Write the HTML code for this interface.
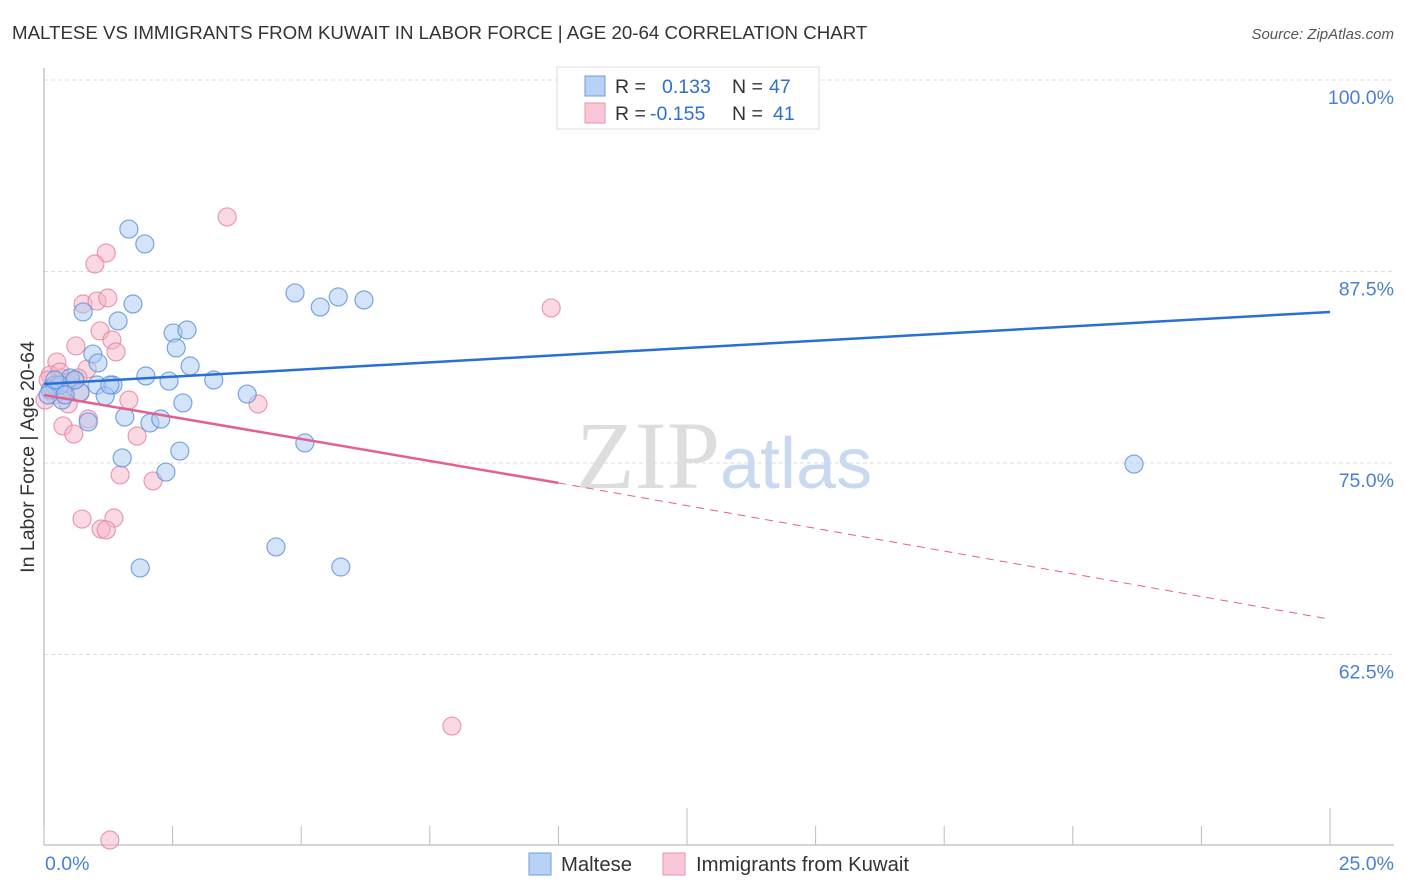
<!DOCTYPE html>
<html><head><meta charset="utf-8"><style>
body{margin:0;background:#fff;font-family:"Liberation Sans",sans-serif;}
svg{display:block}
</style></head><body>
<svg width="1406" height="892" xmlns="http://www.w3.org/2000/svg">
<text x="12" y="39" font-size="18.7" fill="#333">MALTESE VS IMMIGRANTS FROM KUWAIT IN LABOR FORCE | AGE 20-64 CORRELATION CHART</text>
<text x="1394" y="39" font-size="15" fill="#555" font-style="italic" text-anchor="end">Source: ZipAtlas.com</text>
<g id="grid"></g>
<text x="720" y="488" font-size="96" font-family="Liberation Serif,serif" fill="#ddd" text-anchor="end">ZIP</text>
<text x="720" y="488" font-size="72" fill="#c9daf0">atlas</text>
<g id="axes"></g>
<g id="pts"></g>
<g id="lines"></g>
<text transform="translate(34,457) rotate(-90)" font-size="19.5" fill="#333" text-anchor="middle">In Labor Force | Age 20-64</text>
<text x="45" y="870" font-size="19.5" fill="#4a7fd6">0.0%</text>
<text x="1394" y="870" font-size="19.5" fill="#4a7fd6" text-anchor="end">25.0%</text>
<g>
<rect x="557" y="67" width="262" height="62" fill="#fff" stroke="#ddd"/>
<rect x="585" y="76" width="20" height="20" fill="#b8d2f5" stroke="#6f9ae0"/>
<rect x="585" y="103" width="20" height="20" fill="#f8c6d4" stroke="#ea94b0"/>
<text x="615" y="93" font-size="19.5" fill="#333">R = <tspan fill="#2f6fd0" x="662">0.133</tspan><tspan x="732" fill="#333">N = </tspan><tspan fill="#2f6fd0" x="769">47</tspan></text>
<text x="615" y="120" font-size="19.5" fill="#333">R = <tspan fill="#2f6fd0" x="650">-0.155</tspan><tspan x="732" fill="#333">N = </tspan><tspan fill="#2f6fd0" x="773">41</tspan></text>
</g>
<g>
<rect x="529" y="853" width="22" height="22" fill="#b8d2f5" stroke="#6f9ae0"/>
<text x="561" y="871" font-size="20.3" fill="#333">Maltese</text>
<rect x="663" y="853" width="22" height="22" fill="#f8c6d4" stroke="#ea94b0"/>
<text x="696" y="871" font-size="20.3" fill="#333">Immigrants from Kuwait</text>
</g>
</svg>
<script>
const yTicks=[100,87.5,75,62.5];
const yTickLabels=["100.0%","87.5%","75.0%","62.5%"];
const xTicks=[0,2.5,5,7.5,10,12.5,15,17.5,20,22.5,25];
const malteseX=[1.65,1.96,0.76,1.73,1.44,4.88,5.37,5.72,6.22,2.51,2.78,2.57,2.84,0.95,1.05,1.98,2.43,3.30,3.95,2.70,1.03,1.34,1.19,0.35,0.21,0.12,1.57,2.06,2.27,0.86,2.64,5.07,1.52,2.37,4.51,1.87,5.77,21.19,0.51,0.70,1.28,0.31,0.60,0.08,0.41,0.21,14.85];
const malteseY=[90.27,89.3,84.86,85.38,84.27,86.1,85.18,85.84,85.64,83.49,83.68,82.51,81.33,82.11,81.53,80.68,80.35,80.42,79.5,78.92,80.09,80.09,79.37,79.11,80.09,79.77,78.0,77.61,77.87,77.68,75.78,76.31,75.33,74.41,69.52,68.15,68.21,74.93,80.55,79.63,80.09,80.09,80.42,79.44,79.44,80.42,100.1];
const kuwaitX=[3.56,1.21,0.99,0.76,1.03,1.24,1.09,1.32,0.62,1.40,0.25,0.84,0.66,0.35,0.52,0.12,0.21,0.39,0.47,0.70,1.65,4.16,0.86,0.37,0.58,1.81,1.48,2.12,0.74,1.36,1.11,1.21,9.86,7.93,1.28,0.21,0.31,0.08,0.02,0.16,0.45];
const kuwaitY=[91.06,88.71,87.99,85.38,85.57,85.77,83.62,83.03,82.64,82.25,81.59,81.14,80.55,80.55,80.35,80.74,80.09,79.77,78.85,79.57,79.11,78.85,77.87,77.42,76.89,76.76,74.22,73.83,71.34,71.41,70.69,70.63,85.12,57.83,50.39,79.44,80.94,80.42,79.11,79.9,80.22];
const malteseTrend=[[0,80.16],[25,84.86]];
const kuwaitTrend=[[0,79.44],[10,73.7],[25,64.8]];
const NS="http://www.w3.org/2000/svg";
const sx=v=>44+v*51.44, sy=v=>80+(100-v)*15.32;
function mk(t,a,p){const e=document.createElementNS(NS,t);for(const k in a)e.setAttribute(k,a[k]);p.appendChild(e);return e;}
const grid=document.getElementById('grid'),axes=document.getElementById('axes'),pts=document.getElementById('pts'),lines=document.getElementById('lines');
yTicks.forEach((t,i)=>{
 const l=mk('line',{x1:44,x2:1394,y1:sy(t),y2:sy(t),stroke:'#ddd','stroke-dasharray':'4,3'},grid);
 
 
 const tx=mk('text',{x:1394,y:sy(t)+24,'font-size':19.5,fill:'#4a7fd6','text-anchor':'end'},grid);
 tx.textContent=yTickLabels[i];
 
 
});
const ya=mk('line',{x1:44,x2:44,y1:68,y2:845,stroke:'#aaa'},axes);


const xa=mk('line',{x1:44,x2:1394,y1:845,y2:845,stroke:'#aaa'},axes);


xTicks.forEach(t=>{
 const l=mk('line',{x1:sx(t),x2:sx(t),y1:845,y2:(t===12.5||t===25)?808:826,stroke:'#bbb'},axes);
 
 
});
function dots(X,Y,fill,stroke,name){
 X.forEach((x,i)=>{
  const c=mk('circle',{cx:sx(x),cy:sy(Y[i]),r:9,fill:fill,'fill-opacity':0.5,stroke:stroke,'stroke-width':1.2,'stroke-opacity':0.8},pts);
  
  
 });
}
dots(kuwaitX,kuwaitY,'#f5b3c6','#e583a5','kuwait-point');
dots(malteseX,malteseY,'#a9c9f2','#5d90dc','maltese-point');
const bl=mk('line',{x1:sx(malteseTrend[0][0]),y1:sy(malteseTrend[0][1]),x2:sx(malteseTrend[1][0]),y2:sy(malteseTrend[1][1]),stroke:'#2a6fd4','stroke-width':2.5},lines);


const pl=mk('line',{x1:sx(kuwaitTrend[0][0]),y1:sy(kuwaitTrend[0][1]),x2:sx(kuwaitTrend[1][0]),y2:sy(kuwaitTrend[1][1]),stroke:'#e3608e','stroke-width':2.5},lines);


const pd=mk('line',{x1:sx(kuwaitTrend[1][0]),y1:sy(kuwaitTrend[1][1]),x2:sx(kuwaitTrend[2][0]),y2:sy(kuwaitTrend[2][1]),stroke:'#e3608e','stroke-width':1,'stroke-dasharray':'8,6'},lines);


</script>
</body></html>
